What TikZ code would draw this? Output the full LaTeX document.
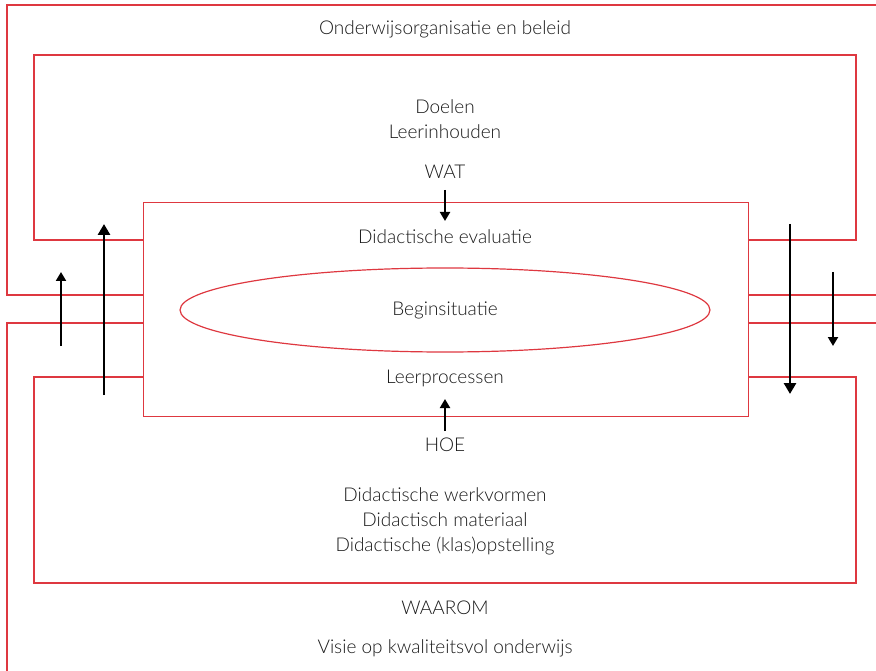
\documentclass[tikz,border=0pt]{standalone}
\usepackage{fontspec}
\setmainfont{Lato}[UprightFont=* Light]
\usetikzlibrary{arrows.meta,shapes.geometric}
\definecolor{lijnrood}{RGB}{222,56,64}
\tikzset{
	rood/.style={draw=lijnrood, line width=1.2pt},
	tekst/.style={font=\fontsize{19}{19}\selectfont, text=black!90, inner sep=0pt},
	pijl/.style={-{Triangle[length=11pt,width=12pt]}, line width=2.8pt},
	kleinepijl/.style={-{Triangle[length=9pt,width=10pt]}, line width=2pt}
}
\begin{document}
\begin{tikzpicture}[x=1pt,y=-1pt]
		\useasboundingbox (0,0) rectangle (876,671);
		\draw[rood] (876,5) -- (7,5) -- (7,295) -- (143,295);
		\draw[rood] (748,295) -- (876,295);
		\draw[rood] (143,323) -- (7,323) -- (7,671);
		\draw[rood] (748,323) -- (876,323);
		\draw[rood] (143,240) -- (34,240) -- (34,55) -- (856,55) -- (856,240) -- (748,240);
		\draw[rood] (143,377) -- (34,377) -- (34,583) -- (856,583) -- (856,377) -- (748,377);
		\node[rood, rectangle, minimum width=605, minimum height=214, anchor=north west] (kern) at (143,202) {};
		\node[rood, ellipse, minimum width=530, minimum height=84, tekst] (begin) at (445,310) {Beginsituatie};
		\node[tekst] (beleid) at (445,29) {Onderwijsorganisatie en beleid};
		\node[tekst, align=center] (doelen) at (445,119) {Doelen\\[6pt]Leerinhouden};
		\node[tekst] (wat) at (445,172) {WAT};
		\node[tekst] (evaluatie) at (445,237) {Didactische evaluatie};
		\node[tekst] (leer) at (445,378) {Leerprocessen};
		\node[tekst] (hoe) at (445,445) {HOE};
		\node[tekst, align=center] (hoe2) at (445,521) {Didactische werkvormen\\[6pt]Didactisch materiaal\\[6pt]Didactische (klas)opstelling};
		\node[tekst] (waarom) at (445,608) {WAAROM};
		\node[tekst] (visie) at (445,648) {Visie op kwaliteitsvol onderwijs};
		\coordinate (watstart) at (445,190);
		\coordinate (watend) at (445,221);
		\coordinate (hoestart) at (445,431);
		\coordinate (hoeend) at (445,399);
		\draw[kleinepijl] (watstart) -- (watend);
		\draw[kleinepijl] (hoestart) -- (hoeend);
		\coordinate (l1) at (61,346);
		\coordinate (l1t) at (61,272);
		\coordinate (l2) at (104,395);
		\coordinate (l2t) at (104,224);
		\coordinate (r1) at (790,224);
		\coordinate (r1t) at (790,394);
		\coordinate (r2) at (833,272);
		\coordinate (r2t) at (833,346);
		\draw[kleinepijl] (l1) -- (l1t);
		\draw[pijl] (l2) -- (l2t);
		\draw[pijl] (r1) -- (r1t);
		\draw[kleinepijl] (r2) -- (r2t);
	\end{tikzpicture}
\end{document}
